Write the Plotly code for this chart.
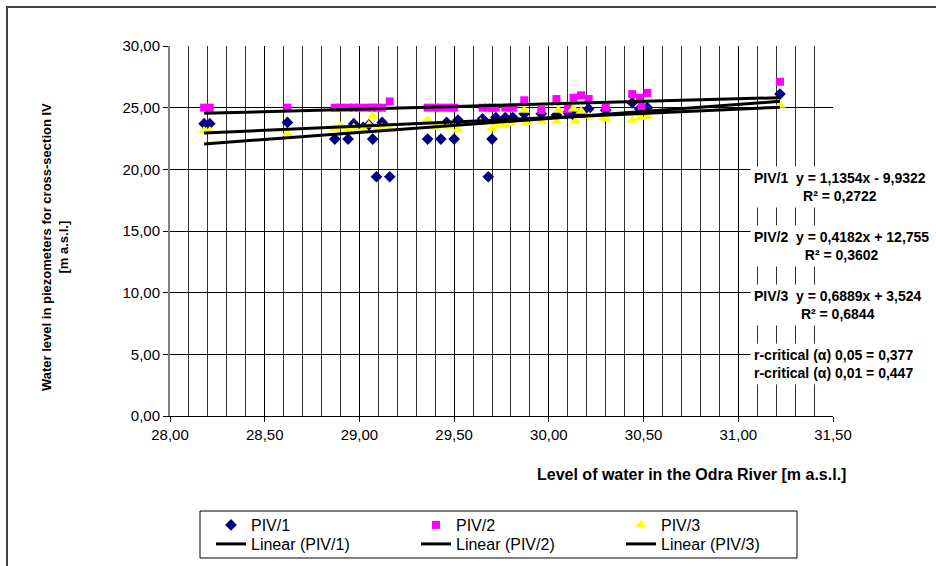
import plotly.graph_objects as go

# ---- data ----
x_piv1 = [28.18, 28.21, 28.62, 28.87, 28.94, 28.97, 29.02, 29.05, 29.07, 29.09, 29.12, 29.16,
          29.36, 29.43, 29.46, 29.50, 29.52, 29.65, 29.68, 29.70, 29.72, 29.77, 29.81, 29.87,
          29.96, 30.04, 30.10, 30.13, 30.17, 30.21, 30.30, 30.44, 30.48, 30.52, 31.22]
y_piv1 = [23.7, 23.7, 23.8, 22.45, 22.45, 23.7, 23.4, 23.6, 22.45, 19.4, 23.8, 19.4,
          22.45, 22.45, 23.8, 22.45, 24.0, 24.1, 19.4, 22.45, 24.2, 24.2, 24.2, 24.5,
          24.5, 24.4, 24.6, 24.4, 24.6, 24.9, 24.8, 25.4, 24.9, 25.0, 26.1]

x_piv2 = [28.18, 28.21, 28.62, 28.87, 28.90, 28.94, 28.97, 29.00, 29.04, 29.07, 29.09, 29.12,
          29.16, 29.36, 29.40, 29.43, 29.47, 29.50, 29.65, 29.68, 29.70, 29.72, 29.77, 29.81,
          29.87, 29.96, 30.04, 30.10, 30.13, 30.17, 30.21, 30.30, 30.44, 30.48, 30.49, 30.52, 31.22]
y_piv2 = [25.0, 25.0, 25.0, 25.0, 25.0, 25.0, 25.0, 25.0, 25.0, 25.0, 25.0, 25.0,
          25.5, 25.0, 25.0, 25.0, 25.0, 25.0, 25.0, 25.0, 25.0, 25.0, 25.0, 25.0,
          25.6, 24.8, 25.7, 24.9, 25.8, 26.0, 25.7, 25.0, 26.1, 25.8, 25.1, 26.2, 27.1]

x_piv3 = [28.18, 28.21, 28.62, 28.87, 28.90, 28.94, 28.97, 29.02, 29.05, 29.07, 29.09, 29.12,
          29.16, 29.36, 29.40, 29.43, 29.47, 29.52, 29.64, 29.70, 29.72, 29.76, 29.80, 29.87,
          29.88, 29.96, 30.04, 30.05, 30.13, 30.14, 30.17, 30.21, 30.29, 30.30, 30.44, 30.48,
          30.52, 31.22]
y_piv3 = [23.1, 23.1, 22.9, 23.3, 23.5, 23.2, 23.4, 23.3, 23.6, 24.3, 23.2, 23.4,
          23.3, 24.0, 23.4, 23.6, 23.5, 23.2, 23.8, 23.3, 23.6, 23.6, 23.7, 24.8,
          23.8, 23.9, 23.9, 24.8, 24.9, 23.9, 24.7, 24.3, 24.2, 24.1, 24.0, 24.2,
          24.3, 25.2]

# linear trend coefficients shown on the chart
trend_coef = {"PIV/1": (1.1354, -9.9322), "PIV/2": (0.4182, 12.755), "PIV/3": (0.6889, 3.524)}

eq_texts = [
    "PIV/1  y = 1,1354x - 9,9322<br>R² = 0,2722",
    "PIV/2  y = 0,4182x + 12,755<br>R² = 0,3602",
    "PIV/3  y = 0,6889x + 3,524<br>R² = 0,6844",
    "r-critical (α) 0,05 = 0,377<br>r-critical (α) 0,01 = 0,447",
]

FONT = "Liberation Sans, Arial, sans-serif"

fig = go.Figure()

series = [
    ("PIV/1", x_piv1, y_piv1, "diamond", "#000080", 9),
    ("PIV/2", x_piv2, y_piv2, "square", "#FF00FF", 8),
    ("PIV/3", x_piv3, y_piv3, "triangle-up", "#FFFF00", 10),
]
for name, xs, ys, sym, col, sz in series:
    fig.add_trace(go.Scatter(x=xs, y=ys, mode="markers", name=name,
                             marker=dict(symbol=sym, color=col, size=sz, line=dict(width=0)),
                             legend="legend"))

for name, xs, ys, sym, col, sz in series:
    a, b = trend_coef[name]
    x0, x1 = min(xs), max(xs)
    fig.add_trace(go.Scatter(x=[x0, x1], y=[a * x0 + b, a * x1 + b], mode="lines",
                             name=f"Linear ({name})", line=dict(color="black", width=3),
                             legend="legend2"))

# plot area in pixels: left 170, right 833, top 46, bottom 416
L, R, T, B = 170, 833, 46, 416
W, H = 936, 566
pw, ph = R - L, B - T

def px(xp):
    return (xp - L) / pw

def py(yp):
    return (B - yp) / ph

ann = []
for txt, yc in zip(eq_texts, [187, 246, 305, 364]):
    ann.append(dict(text="<b>" + txt.replace("<br>", "</b><br><b>") + "</b>",
                    x=px(750), y=py(yc), xref="paper", yref="paper",
                    xanchor="left", yanchor="middle", align="center", showarrow=False,
                    bgcolor="white", borderpad=3,
                    font=dict(family=FONT, size=14, color="black")))

ann.append(dict(text="<b>Water level in piezometers for cross-section IV<br>[m a.s.l.]</b>",
                x=px(55), y=py(247), xref="paper", yref="paper", textangle=-90,
                xanchor="center", yanchor="middle", showarrow=False, align="center",
                font=dict(family=FONT, size=13, color="black")))
ann.append(dict(text="<b>Level of water in the Odra River [m a.s.l.]</b>",
                x=px(691), y=py(474), xref="paper", yref="paper",
                xanchor="center", yanchor="middle", showarrow=False,
                font=dict(family=FONT, size=16, color="black")))

shapes = [
    # outer chart border
    dict(type="rect", xref="paper", yref="paper", x0=px(7), x1=px(1000), y0=py(700), y1=py(7),
         line=dict(color="#404040", width=2), layer="below"),
    # legend box
    dict(type="rect", xref="paper", yref="paper", x0=px(200), x1=px(797), y0=py(558), y1=py(511),
         line=dict(color="black", width=1)),
]

fig.update_layout(
    width=W, height=H,
    margin=dict(l=L, r=W - R, t=T, b=H - B, autoexpand=False),
    paper_bgcolor="white", plot_bgcolor="white",
    separators=", ",
    font=dict(family=FONT, size=14, color="black"),
    annotations=ann, shapes=shapes,
    showlegend=True,
    legend=dict(orientation="h", x=px(211), y=py(508), xanchor="left", yanchor="top",
                entrywidth=160, entrywidthmode="pixels", bgcolor="rgba(0,0,0,0)",
                font=dict(family=FONT, size=16), tracegroupgap=0),
    legend2=dict(orientation="h", x=px(211), y=py(527), xanchor="left", yanchor="top",
                 entrywidth=160, entrywidthmode="pixels", bgcolor="rgba(0,0,0,0)",
                 font=dict(family=FONT, size=16), tracegroupgap=0),
)

fig.update_xaxes(range=[28, 31.5], dtick=0.5, tick0=28, tickformat=".2f",
                 showgrid=True, gridcolor="black", gridwidth=1,
                 minor=dict(dtick=0.1, showgrid=True, gridcolor="#303030", gridwidth=1, ticks=""),
                 ticks="outside", ticklen=5, tickcolor="black",
                 showline=True, linecolor="black", linewidth=1, zeroline=False,
                 tickfont=dict(family=FONT, size=15))
fig.update_yaxes(range=[0, 30], dtick=5, tickformat=".2f",
                 showgrid=True, gridcolor="black", gridwidth=1,
                 ticks="outside", ticklen=5, tickcolor="black",
                 showline=True, linecolor="#808080", linewidth=2, zeroline=False,
                 tickfont=dict(family=FONT, size=15))

fig.write_html("out.html", config={"displayModeBar": False},
               post_script="document.body.style.margin='0';")
